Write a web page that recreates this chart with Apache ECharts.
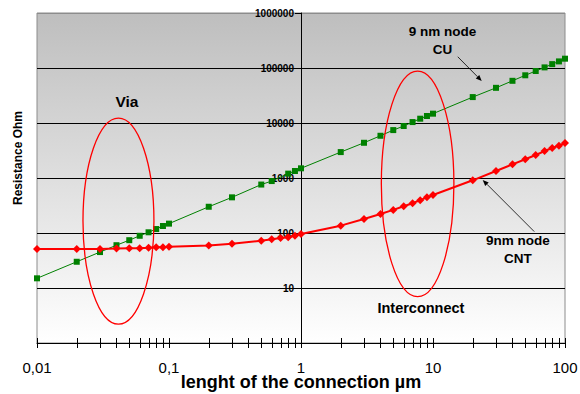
<!DOCTYPE html>
<html>
<head>
<meta charset="utf-8">
<script src="https://cdn.jsdelivr.net/npm/echarts@6/dist/echarts.min.js"></script>
<style>
html,body{margin:0;padding:0;background:#fff;}
#c{width:580px;height:394px;}
</style>
</head>
<body>
<div id="c"></div>
<script>
// ---- data ----
const cuLength = [0.01,0.02,0.03,0.04,0.05,0.06,0.07,0.08,0.09,0.1,0.2,0.3,0.5,0.6,0.8,0.9,1,2,3,4,5,6,7,8,9,10,20,30,40,50,60,70,80,90,100];
const cuResistance = [15,30,45,60,74,89,103,118,134,148,300,445,760,880,1200,1340,1500,2960,4370,5860,7430,8810,10400,11970,13400,14780,29600,43600,58500,73700,88100,102600,117600,131800,147700];
const cntLength = [0.01,0.02,0.03,0.04,0.05,0.06,0.07,0.08,0.09,0.1,0.2,0.3,0.5,0.6,0.7,0.8,0.9,1,2,3,4,5,6,7,8,9,10,20,30,40,50,60,70,80,90,100];
const cntResistance = [51,51,51,52,53,53,54,55,55,56,59,64,72,77,81,84,89,96,136,180,221,263,306,347,395,445,490,908,1340,1770,2190,2620,3090,3510,3870,4330];
const xTickValues = [0.01,0.02,0.03,0.04,0.05,0.06,0.07,0.08,0.09,0.1,0.2,0.3,0.4,0.5,0.6,0.7,0.8,0.9,1,2,3,4,5,6,7,8,9,10,20,30,40,50,60,70,80,90,100];
const xTickLabels = {'0.01':'0,01','0.1':'0,1','1':'1','10':'10','100':'100'};
const yTickLabels = {'10':'10','100':'100','1000':'1000','10000':'10000','100000':'100000','1000000':'1000000'};
const xTitle = 'lenght of the connection µm';
const yTitle = 'Resistance Ohm';
// annotation anchors (data coordinates)
const viaEllipse = {x0:0.0223, x1:0.0769, y0:2.2, y1:12300};
const interEllipse = {x0:4.06, x1:14.4, y0:6.95, y1:88100};
const labels = [
  {text:'Via', at:[0.048,25100], size:15.5},
  {text:'9 nm node', at:[11.8,457000], size:13.5},
  {text:'CU', at:[11.8,221000], size:13.5},
  {text:'9nm node', at:[44,71.6], size:13.5},
  {text:'CNT', at:[44,33.7], size:13.5},
  {text:'Interconnect', at:[8.1,4.33], size:14.5}
];
const arrows = [
  {from:[15.4,160000], to:[23.4,58000]},
  {from:[58.5,106], to:[23.8,920]}
];

const FONT = "'Liberation Sans', Arial, sans-serif";
const chart = echarts.init(document.getElementById('c'), null, {renderer:'svg'});

const gridLeft = 37, gridRight = 15, gridTop = 13, gridBottom = 51;

function fmtKey(v){ return String(Number(Number(v).toPrecision(6))); }

const option = {
  animation:false,
  backgroundColor:'#fff',
  textStyle:{fontFamily:FONT},
  grid:{left:gridLeft,right:gridRight,top:gridTop,bottom:gridBottom,show:true,containLabel:false,outerBoundsMode:'none',
    borderColor:'#8c8c8c',borderWidth:1,
    backgroundColor:{type:'linear',x:0,y:0,x2:0,y2:1,colorStops:[{offset:0,color:'#bebebe'},{offset:1,color:'#ffffff'}]}},
  xAxis:{type:'log',logBase:10,min:0.01,max:100,splitNumber:4,
    name:xTitle,nameLocation:'middle',nameGap:31,nameMoveOverlap:false,
    nameTextStyle:{fontFamily:FONT,fontSize:18,lineHeight:16,fontWeight:'bold',color:'#000'},
    axisLine:{show:true,lineStyle:{color:'#000',width:1}},
    axisTick:{show:false},
    splitLine:{show:false},
    axisLabel:{fontFamily:FONT,fontSize:15,lineHeight:14,color:'#000',margin:17,
      formatter:v=>xTickLabels[fmtKey(v)]||''}},
  yAxis:{type:'log',logBase:10,min:1,max:1000000,splitNumber:6,position:'left',offset:-264,
    axisLine:{show:true,lineStyle:{color:'#000',width:1}},
    axisTick:{show:true,length:6,lineStyle:{color:'#000'}},
    axisLabel:{fontFamily:FONT,fontSize:10,fontWeight:'bold',color:'#000',margin:7,
      formatter:v=>yTickLabels[fmtKey(v)]||''},
    splitLine:{show:true,lineStyle:{color:['#000','#000','#000','#000','#000','#000','#8c8c8c'],width:1}}},
  series:[
    {type:'custom',name:'ticks',clip:false,silent:true,z:5,
      data:xTickValues.map(v=>[v,1]),
      renderItem:(params,api)=>{
        const p = api.coord([api.value(0),api.value(1)]);
        const x = Math.round(p[0])+0.5, y = Math.round(p[1]);
        return {type:'line',shape:{x1:x,y1:y-5,x2:x,y2:y+5},style:{stroke:'#000',lineWidth:1}};
      }},
    {type:'line',name:'9 nm node CU',data:cuLength.map((x,i)=>[x,cuResistance[i]]),
      symbol:'rect',symbolSize:6,showAllSymbol:true,z:3,
      itemStyle:{color:'#008000'},lineStyle:{color:'#008000',width:1}},
    {type:'line',name:'9nm node CNT',data:cntLength.map((x,i)=>[x,cntResistance[i]]),
      symbol:'diamond',symbolSize:8,showAllSymbol:true,z:4,
      itemStyle:{color:'#ff0000'},lineStyle:{color:'#ff0000',width:2}}
  ]
};
chart.setOption(option);

function px(pt){ return chart.convertToPixel({gridIndex:0}, pt); }

const x1px = px([1,1])[0];
const xLeft = px([0.01,1])[0];

function buildGraphics(){
  const g = [];
  [viaEllipse, interEllipse].forEach(e=>{
    const a = px([e.x0,e.y0]), b = px([e.x1,e.y1]);
    g.push({type:'ellipse',z:10,shape:{cx:(a[0]+b[0])/2,cy:(a[1]+b[1])/2,rx:Math.abs(b[0]-a[0])/2,ry:Math.abs(b[1]-a[1])/2},
      style:{fill:'none',stroke:'#ff0000',lineWidth:1.3}});
  });
  labels.forEach(l=>{
    const p = px(l.at);
    g.push({type:'text',z:11,x:p[0],y:p[1],style:{text:l.text,fontFamily:FONT,fontSize:l.size,fontWeight:'bold',fill:'#000',align:'center',verticalAlign:'middle'}});
  });
  arrows.forEach(ar=>{
    const a = px(ar.from), b = px(ar.to);
    const dx=b[0]-a[0], dy=b[1]-a[1], L=Math.hypot(dx,dy), ux=dx/L, uy=dy/L;
    const hl=6, hw=2.5;
    const bx=b[0]-ux*hl, by=b[1]-uy*hl;
    g.push({type:'line',z:11,shape:{x1:a[0],y1:a[1],x2:bx,y2:by},style:{stroke:'#000',lineWidth:0.8}});
    g.push({type:'polygon',z:11,shape:{points:[[b[0],b[1]],[bx-uy*hw,by+ux*hw],[bx+uy*hw,by-ux*hw]]},style:{fill:'#000'}});
  });
  g.push({type:'text',z:11,x:18,y:158,rotation:Math.PI/2,
    style:{text:yTitle,fontFamily:FONT,fontSize:12,fontWeight:'bold',fill:'#000',align:'center',verticalAlign:'middle'}});
  return g;
}
chart.setOption({yAxis:{offset:-(x1px-xLeft)}, graphic:buildGraphics()});
</script>
</body>
</html>
